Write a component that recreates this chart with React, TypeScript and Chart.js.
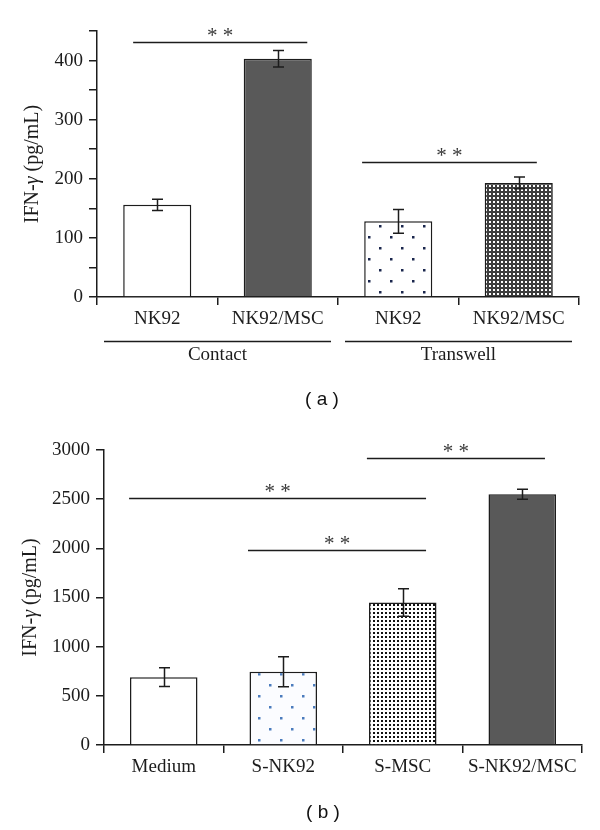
import React, { useEffect, useRef } from 'react';
import { Chart, registerables } from 'chart.js';

Chart.register(...registerables);

// ---------- DATA ----------
const categoriesA = ['NK92', 'NK92/MSC', 'NK92', 'NK92/MSC'];
const valuesA = [156, 403, 128, 193];
const errorsA = [9.5, 14, 20, 10];
const groupsA = ['Contact', 'Transwell'];
// significance: [from (category coord), to (category coord), y value]
const sigA: number[][] = [
  [-0.2, 1.245, 432],
  [1.7, 3.15, 229],
];
const yTicksA = { max: 450, step: 50, labelEvery: 100 };

const categoriesB = ['Medium', 'S-NK92', 'S-MSC', 'S-NK92/MSC'];
const valuesB = [690, 745, 1450, 2550];
const errorsB = [95, 152, 140, 50];
const sigB: number[][] = [
  [1.7, 3.19, 2919],
  [-0.29, 2.195, 2512],
  [0.705, 2.195, 1983],
];
const yTicksB = { max: 3000, step: 500, labelEvery: 500 };

const yTitleParts = ['IFN-', 'γ', ' (pg/mL)'];
const sigText = '* *';

// ---------- STYLE ----------
const INK = '#1c1c1c';
const SERIF = '"Liberation Serif", "Times New Roman", serif';
const FONT_SIZE = 19;

function makePattern(kind: string): CanvasPattern | string {
  const c = document.createElement('canvas');
  const ctx = c.getContext('2d')!;
  if (kind === 'dotsNavy' || kind === 'dotsBlue') {
    c.width = 22;
    c.height = 22;
    ctx.fillStyle = kind === 'dotsBlue' ? '#fbfcff' : '#ffffff';
    ctx.fillRect(0, 0, 22, 22);
    ctx.fillStyle = kind === 'dotsBlue' ? '#4a7bbd' : '#1a264d';
    ctx.fillRect(5, 5, 2.5, 2.5);
    ctx.fillRect(16, 16, 2.5, 2.5);
  } else if (kind === 'mesh') {
    c.width = 4;
    c.height = 4;
    ctx.fillStyle = '#3d3d3d';
    ctx.fillRect(0, 0, 4, 4);
    ctx.fillStyle = '#ffffff';
    ctx.fillRect(1, 1, 2, 2);
  } else if (kind === 'fineDots') {
    c.width = 4;
    c.height = 4;
    ctx.fillStyle = '#ffffff';
    ctx.fillRect(0, 0, 4, 4);
    ctx.fillStyle = '#111111';
    ctx.fillRect(1, 1, 2, 2);
  }
  return ctx.createPattern(c, 'repeat') || '#888';
}

function drawYTitle(ctx: CanvasRenderingContext2D, x: number, yc: number) {
  ctx.save();
  ctx.translate(x, yc);
  ctx.rotate(-Math.PI / 2);
  ctx.fillStyle = INK;
  ctx.textBaseline = 'alphabetic';
  ctx.textAlign = 'left';
  const size = 20;
  const fonts = [`${size}px ${SERIF}`, `italic ${size}px ${SERIF}`, `${size}px ${SERIF}`];
  let total = 0;
  const widths = yTitleParts.map((p, i) => {
    ctx.font = fonts[i];
    const w = ctx.measureText(p).width;
    total += w;
    return w;
  });
  let cx = -total / 2;
  yTitleParts.forEach((p, i) => {
    ctx.font = fonts[i];
    ctx.fillText(p, cx, 0);
    cx += widths[i];
  });
  ctx.restore();
}

function drawErrorBars(chart: any, errors: number[]) {
  const ctx = chart.ctx as CanvasRenderingContext2D;
  const meta = chart.getDatasetMeta(0);
  const yScale = chart.scales.y;
  const values = chart.data.datasets[0].data as number[];
  ctx.save();
  ctx.strokeStyle = INK;
  ctx.lineWidth = 1.5;
  meta.data.forEach((bar: any, i: number) => {
    const x = Math.round(bar.x) + 0.5;
    const yTop = yScale.getPixelForValue(values[i] + errors[i]);
    const yBot = yScale.getPixelForValue(values[i] - errors[i]);
    ctx.beginPath();
    ctx.moveTo(x, yTop);
    ctx.lineTo(x, yBot);
    ctx.moveTo(x - 5.5, yTop);
    ctx.lineTo(x + 5.5, yTop);
    ctx.moveTo(x - 5.5, yBot);
    ctx.lineTo(x + 5.5, yBot);
    ctx.stroke();
  });
  ctx.restore();
}

function drawSig(chart: any, sig: number[][]) {
  const ctx = chart.ctx as CanvasRenderingContext2D;
  const xs = chart.scales.x;
  const ys = chart.scales.y;
  ctx.save();
  sig.forEach(([a, b, v]) => {
    const x0 = xs.getPixelForValue(a);
    const x1 = xs.getPixelForValue(b);
    const y = Math.round(ys.getPixelForValue(v)) + 0.5;
    ctx.strokeStyle = INK;
    ctx.lineWidth = 1.5;
    ctx.beginPath();
    ctx.moveTo(x0, y);
    ctx.lineTo(x1, y);
    ctx.stroke();
    ctx.font = `21px ${SERIF}`;
    ctx.fillStyle = '#3a3a3a';
    ctx.textAlign = 'center';
    ctx.textBaseline = 'alphabetic';
    const m = ctx.measureText(sigText);
    const asc = m.actualBoundingBoxAscent;
    const desc = m.actualBoundingBoxDescent;
    const yc = y - 11;
    ctx.fillText(sigText, (x0 + x1) / 2, yc + (asc - desc) / 2);
  });
  ctx.restore();
}

function drawPanelLabel(ctx: CanvasRenderingContext2D, text: string, x: number, y: number) {
  ctx.save();
  ctx.font = `19px "Liberation Sans", Arial, sans-serif`;
  ctx.fillStyle = '#111';
  ctx.textAlign = 'center';
  ctx.textBaseline = 'middle';
  ctx.fillText(text, x, y);
  ctx.restore();
}

interface PanelSpec {
  height: number;
  top: number;
  yWidth: number;
  padRight: number;
  bottom: number;
  categories: string[];
  values: number[];
  errors: number[];
  fills: (CanvasPattern | string)[];
  yTicks: { max: number; step: number; labelEvery: number };
  sig: number[][];
  titleX: number;
  panelLabel: string;
  panelLabelPos: [number, number];
  groups?: string[];
}

function buildChart(canvas: HTMLCanvasElement, s: PanelSpec) {
  const plugin = {
    id: 'extras',
    afterDatasetsDraw(chart: any) {
      drawErrorBars(chart, s.errors);
    },
    afterDraw(chart: any) {
      const ctx = chart.ctx as CanvasRenderingContext2D;
      const ca = chart.chartArea;
      drawSig(chart, s.sig);
      drawYTitle(ctx, s.titleX, (ca.top + ca.bottom) / 2);
      if (s.groups) {
        const xs = chart.scales.x;
        s.groups.forEach((g, gi) => {
          const x0 = xs.getPixelForValue(gi * 2 - 0.5) + 7;
          const x1 = xs.getPixelForValue(gi * 2 + 1.5) - 7;
          const y = Math.round(ca.bottom + 44) + 0.5;
          ctx.save();
          ctx.strokeStyle = INK;
          ctx.lineWidth = 1.5;
          ctx.beginPath();
          ctx.moveTo(x0, y);
          ctx.lineTo(x1, y);
          ctx.stroke();
          ctx.font = `${FONT_SIZE}px ${SERIF}`;
          ctx.fillStyle = INK;
          ctx.textAlign = 'center';
          ctx.textBaseline = 'middle';
          ctx.fillText(g, (x0 + x1) / 2, ca.bottom + 58);
          ctx.restore();
        });
      }
      drawPanelLabel(ctx, s.panelLabel, s.panelLabelPos[0], s.panelLabelPos[1]);
    },
  };

  return new Chart(canvas, {
    type: 'bar',
    data: {
      labels: s.categories,
      datasets: [
        {
          data: s.values,
          backgroundColor: s.fills as any,
          borderColor: INK,
          borderWidth: 1.5,
          barPercentage: 0.565,
          categoryPercentage: 1,
        },
      ],
    },
    options: {
      responsive: false,
      animation: false,
      devicePixelRatio: 1,
      layout: { padding: { top: s.top, right: s.padRight, left: 0, bottom: 0 } },
      plugins: {
        legend: { display: false },
        tooltip: { enabled: false },
        title: { display: false },
      },
      scales: {
        x: {
          type: 'category',
          afterFit: (sc: any) => {
            sc.height = s.height - s.bottom;
          },
          grid: {
            offset: true,
            drawOnChartArea: false,
            drawTicks: true,
            tickLength: 8,
            color: INK,
            lineWidth: 1.5,
          },
          border: { display: true, color: INK, width: 1.5 },
          ticks: {
            padding: 3,
            color: INK,
            font: { family: SERIF, size: FONT_SIZE },
            maxRotation: 0,
            autoSkip: false,
          },
        },
        y: {
          type: 'linear',
          min: 0,
          max: s.yTicks.max,
          afterFit: (sc: any) => {
            sc.width = s.yWidth;
          },
          grid: {
            drawOnChartArea: false,
            drawTicks: true,
            tickLength: 8,
            color: INK,
            lineWidth: 1.5,
          },
          border: { display: true, color: INK, width: 1.5 },
          ticks: {
            stepSize: s.yTicks.step,
            padding: 6,
            color: INK,
            font: { family: SERIF, size: FONT_SIZE },
            callback: (v: any) => (Number(v) % s.yTicks.labelEvery === 0 ? String(v) : ''),
          },
        },
      },
    },
    plugins: [plugin],
  } as any);
}

export default function App() {
  const refA = useRef<HTMLCanvasElement>(null);
  const refB = useRef<HTMLCanvasElement>(null);

  useEffect(() => {
    const white = '#ffffff';
    const dark = '#595959';
    const chartA = buildChart(refA.current!, {
      height: 415,
      top: 31,
      yWidth: 97,
      padRight: 21,
      bottom: 297,
      categories: categoriesA,
      values: valuesA,
      errors: errorsA,
      fills: [white, dark, makePattern('dotsNavy'), makePattern('mesh')],
      yTicks: yTicksA,
      sig: sigA,
      titleX: 38,
      panelLabel: '( a )',
      panelLabelPos: [322, 400],
      groups: groupsA,
    });
    const chartB = buildChart(refB.current!, {
      height: 415,
      top: 35,
      yWidth: 104,
      padRight: 18,
      bottom: 330,
      categories: categoriesB,
      values: valuesB,
      errors: errorsB,
      fills: [white, makePattern('dotsBlue'), makePattern('fineDots'), dark],
      yTicks: yTicksB,
      sig: sigB,
      titleX: 36,
      panelLabel: '( b )',
      panelLabelPos: [323, 398],
    });
    return () => {
      chartA.destroy();
      chartB.destroy();
    };
  }, []);

  return (
    <div
      style={{
        position: 'absolute',
        left: 0,
        top: 0,
        width: 600,
        height: 830,
        background: '#ffffff',
      }}
    >
      <canvas
        ref={refA}
        width={600}
        height={415}
        style={{ position: 'absolute', left: 0, top: 0, width: 600, height: 415 }}
      />
      <canvas
        ref={refB}
        width={600}
        height={415}
        style={{ position: 'absolute', left: 0, top: 415, width: 600, height: 415 }}
      />
    </div>
  );
}
